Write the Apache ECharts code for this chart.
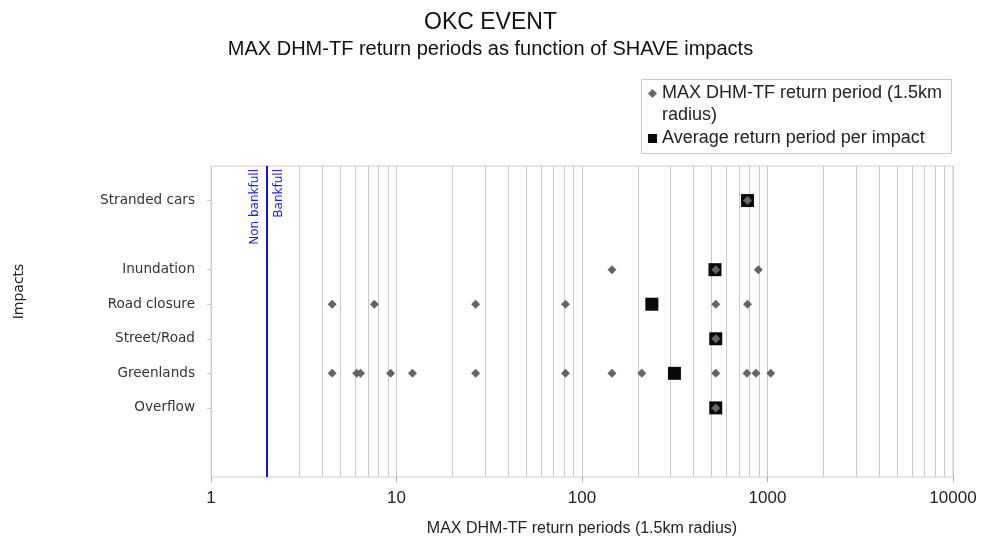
<!DOCTYPE html>
<html><head><meta charset="utf-8">
<script src="https://cdn.jsdelivr.net/npm/echarts@6/dist/echarts.min.js"></script>
<style>html,body{margin:0;padding:0;background:#fff}#chart{width:981px;height:544px}</style>
</head><body><div id="chart"></div>
<script>
// ---- data ----
const impactCategories = ['', '', 'Overflow', 'Greenlands', 'Street/Road', 'Road closure', 'Inundation', '', 'Stranded cars', ''];
const strandedCars = [780];
const inundation = [145, 526, 892];
const roadClosure = [4.5, 7.6, 26.7, 81.5, 526, 780];
const streetRoad = [526];
const greenlands = [4.5, 6.1, 6.4, 9.3, 12.2, 26.7, 81.5, 145, 210, 526, 775, 867, 1041];
const overflow = [526];
const averageImpacts = ['Stranded cars', 'Inundation', 'Road closure', 'Street/Road', 'Greenlands', 'Overflow'];
const averageValues = [780, 521, 238, 526, 315, 526];
const xTickLabels = ['1', '10', '100', '1000', '10000'];
const minorGridValues = [2, 3, 4, 5, 6, 7, 8, 9, 20, 30, 40, 50, 60, 70, 80, 90, 200, 300, 400, 500, 600, 700, 800, 900, 2000, 3000, 4000, 5000, 6000, 7000, 8000, 9000];
const bankfullValue = 2;

const seriesMaxName = 'MAX DHM-TF return period (1.5km radius)';
const seriesAvgName = 'Average return period per impact';
const legendMaxLine1 = 'MAX DHM-TF return period (1.5km';
const legendMaxLine2 = 'radius)';

const impactGroups = [
  ['Stranded cars', strandedCars],
  ['Inundation', inundation],
  ['Road closure', roadClosure],
  ['Street/Road', streetRoad],
  ['Greenlands', greenlands],
  ['Overflow', overflow]
];
const maxData = [];
impactGroups.forEach(([name, vals]) => vals.forEach(v => maxData.push([v, name])));
const avgData = averageImpacts.map((n, i) => [averageValues[i], n]);

const chart = echarts.init(document.getElementById('chart'), null, {renderer: 'canvas'});
chart.setOption({
  animation: false,
  backgroundColor: '#fff',
  title: [
    {text: 'OKC EVENT', left: 'center', top: 11, padding: 0,
     textStyle: {fontFamily: 'Liberation Sans', fontSize: 23, fontWeight: 'normal', color: '#111'}},
    {text: 'MAX DHM-TF return periods as function of SHAVE impacts', left: 'center', top: 39, padding: 0,
     textStyle: {fontFamily: 'Liberation Sans', fontSize: 20, fontWeight: 'normal', color: '#111'}}
  ],
  legend: {
    orient: 'vertical', left: 648, top: 83, padding: 0, itemGap: 24,
    itemWidth: 9, itemHeight: 9,
    textStyle: {fontFamily: 'Liberation Sans', fontSize: 18, color: '#222', lineHeight: 21},
    formatter: n => n === seriesMaxName ? legendMaxLine1 : n,
    data: [
      {name: seriesMaxName, icon: 'diamond'},
      {name: seriesAvgName, icon: 'rect'}
    ]
  },
  graphic: [
    {type: 'rect', silent: true, z: 10,
     shape: {x: 641.5, y: 79.5, width: 310, height: 74},
     style: {fill: 'none', stroke: '#c8c8c8', lineWidth: 1}},
    {type: 'text', x: 662, y: 115, silent: true, z: 10,
     style: {text: legendMaxLine2, font: '18px "Liberation Sans"', fill: '#222', verticalAlign: 'middle', align: 'left'}}
  ],
  grid: {left: 211, right: 28, top: 166, bottom: 67, show: true, borderColor: '#cccccc', borderWidth: 1, containLabel: false},
  xAxis: {
    type: 'log', logBase: 10, min: 1, max: 10000,
    name: 'MAX DHM-TF return periods (1.5km radius)', nameLocation: 'middle', nameGap: 44,
    nameTextStyle: {fontFamily: 'Liberation Sans', fontSize: 16, color: '#222'},
    axisLine: {lineStyle: {color: '#aaaaaa'}},
    axisTick: {show: true, length: 5, lineStyle: {color: '#aaaaaa'}},
    axisLabel: {fontFamily: 'Liberation Sans', fontSize: 17, color: '#222', margin: 13,
      formatter: v => xTickLabels[Math.round(Math.log10(v))]},
    splitLine: {show: true, lineStyle: {color: '#c8c8c8', width: 1}}
  },
  yAxis: {
    type: 'category', data: impactCategories, boundaryGap: false,
    name: 'Impacts', nameLocation: 'middle', nameGap: 185, nameRotate: 90,
    nameTextStyle: {fontFamily: 'DejaVu Sans', fontSize: 14, color: '#222', padding: [0, 0, 0, 60]},
    axisLine: {lineStyle: {color: '#cccccc'}},
    axisTick: {show: true, length: 4, alignWithLabel: true, lineStyle: {color: '#cccccc'},
      interval: (idx, val) => val !== ''},
    axisLabel: {fontFamily: 'DejaVu Sans', fontSize: 13.6, color: '#333', margin: 16, interval: 0},
    splitLine: {show: false}
  },
  series: [
    {
      type: 'line', data: [], silent: true, z: 1,
      markLine: {
        silent: true, symbol: ['none', 'none'], animation: false, z: 1,
        label: {show: false},
        lineStyle: {color: '#c8c8c8', width: 1, type: 'solid'},
        data: minorGridValues.map(v => ({xAxis: v}))
      }
    },
    {
      type: 'line', data: [], silent: true, z: 2,
      markLine: {
        silent: true, symbol: ['none', 'none'], animation: false, z: 2,
        lineStyle: {color: '#1010ff', width: 2, type: 'solid'},
        data: [
          {xAxis: bankfullValue, label: {show: true, formatter: 'Non bankfull', position: 'insideEndTop', distance: [3, 6], color: '#1a1aff', fontFamily: 'DejaVu Sans', fontSize: 12}},
          {xAxis: bankfullValue, label: {show: true, formatter: 'Bankfull', position: 'insideEndBottom', distance: [3, 6], color: '#1a1aff', fontFamily: 'DejaVu Sans', fontSize: 12}}
        ]
      }
    },
    {
      name: seriesAvgName, type: 'scatter', symbol: 'rect', symbolSize: 13, z: 3,
      itemStyle: {color: '#0a0a0a', opacity: 1}, data: avgData
    },
    {
      name: seriesMaxName, type: 'scatter', symbol: 'diamond', symbolSize: 9, z: 4,
      itemStyle: {color: '#656565', opacity: 1}, data: maxData
    }
  ]
});
</script>
</body></html>
